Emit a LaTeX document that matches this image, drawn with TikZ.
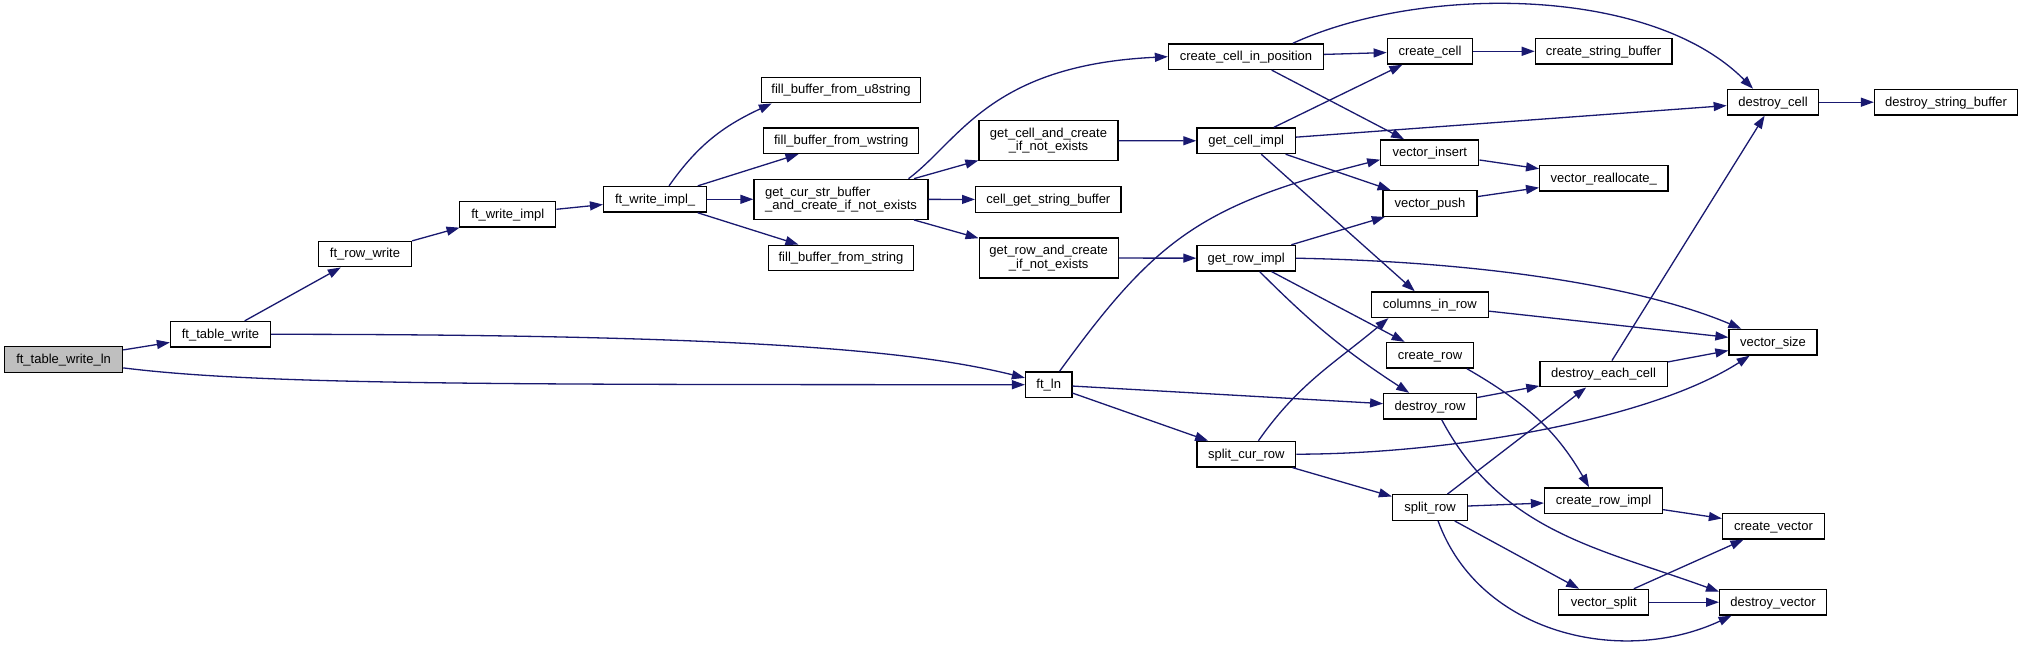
\documentclass[tikz,border=0pt]{standalone}
\usepackage{fontspec}
\setmainfont{Liberation Sans}
\usetikzlibrary{arrows.meta}
\definecolor{edgeblue}{HTML}{191970}
\definecolor{rootgray}{HTML}{BFBFBF}
\tikzset{
  fn/.style={draw, rectangle, line width=1.3pt, inner sep=0pt, minimum height=25.6pt,
    text height=9.6pt, text depth=2pt, font=\fontsize{13}{13.5}\selectfont},
  fntwo/.style={draw, rectangle, line width=1.3pt, inner sep=0pt, minimum height=40pt,
    align=center, font=\fontsize{13}{13.4}\selectfont},
  call/.style={draw=edgeblue, line width=1.3pt, -{Triangle[length=13pt, width=9pt]}}
}
\begin{document}
\begin{tikzpicture}[x=1pt, y=1pt]
\path[use as bounding box, fill=white] (0,0) rectangle (2023,-648);

\node[fn, fill=rootgray, minimum width=118pt] (twl) at (63.6,-359.5) {ft\_table\_write\_ln};
\node[fn, minimum width=100pt] (tw) at (220.5,-334.3) {ft\_table\_write};
\node[fn, minimum width=93pt] (rw) at (365,-254) {ft\_row\_write};
\node[fn, minimum width=96pt] (wi) at (507.8,-214.2) {ft\_write\_impl};
\node[fn, minimum width=103pt] (wiu) at (655.1,-199.3) {ft\_write\_impl\_};

\node[fn, minimum width=159pt] (fu8) at (841,-90) {fill\_buffer\_from\_u8string};
\node[fn, minimum width=155pt] (fw) at (841.2,-140.7) {fill\_buffer\_from\_wstring};
\node[fntwo, align=left, minimum width=174pt] (gcs) at (841,-199.3) {get\_cur\_str\_buffer\\\_and\_create\_if\_not\_exists};
\node[fn, minimum width=145.5pt] (fs) at (841,-258) {fill\_buffer\_from\_string};

\node[fntwo, minimum width=139pt] (gcc) at (1048.5,-140.7) {get\_cell\_and\_create\\\_if\_not\_exists};
\node[fn, minimum width=145.3pt] (cgs) at (1048.3,-199.5) {cell\_get\_string\_buffer};
\node[fntwo, minimum width=139pt] (grc) at (1048.7,-258) {get\_row\_and\_create\\\_if\_not\_exists};
\node[fn, minimum width=46.3pt] (ln) at (1048.7,-384.7) {ft\_ln};

\node[fn, minimum width=155pt] (ccp) at (1246,-56.7) {create\_cell\_in\_position};
\node[fn, minimum width=98.6pt] (gci) at (1246.2,-140.8) {get\_cell\_impl};
\node[fn, minimum width=98.6pt] (gri) at (1246.2,-258.2) {get\_row\_impl};
\node[fn, minimum width=98.6pt] (scr) at (1246.3,-454.2) {split\_cur\_row};

\node[fn, minimum width=85.5pt] (cc) at (1430,-51.3) {create\_cell};
\node[fn, minimum width=98pt] (vi) at (1429.8,-152.7) {vector\_insert};
\node[fn, minimum width=94pt] (vp) at (1430,-203.5) {vector\_push};
\node[fn, minimum width=116.7pt] (cir) at (1429.8,-304.7) {columns\_in\_row};
\node[fn, minimum width=87pt] (cr) at (1430,-355.3) {create\_row};
\node[fn, minimum width=92.5pt] (dr) at (1430,-406.3) {destroy\_row};
\node[fn, minimum width=75pt] (sr) at (1430,-507.5) {split\_row};

\node[fn, minimum width=136.5pt] (csb) at (1603.6,-51.3) {create\_string\_buffer};
\node[fn, minimum width=128.3pt] (vr) at (1603.8,-178.2) {vector\_reallocate\_};
\node[fn, minimum width=127.3pt] (dec) at (1603.6,-374) {destroy\_each\_cell};
\node[fn, minimum width=118pt] (cri) at (1603.5,-500.7) {create\_row\_impl};
\node[fn, minimum width=90pt] (vsp) at (1603.8,-602.2) {vector\_split};

\node[fn, minimum width=91.4pt] (dc) at (1773,-102.2) {destroy\_cell};
\node[fn, minimum width=88pt] (vs) at (1773,-342.2) {vector\_size};
\node[fn, minimum width=102pt] (cv) at (1773.5,-526.2) {create\_vector};
\node[fn, minimum width=106.7pt] (dv) at (1773,-602.2) {destroy\_vector};
\node[fn, minimum width=143pt] (dsb) at (1946,-102.2) {destroy\_string\_buffer};

\draw[call] (twl) -- (tw);
\draw[call] (twl.-8) .. controls (260,-385) and (500,-384.5) .. (ln.west);
\draw[call] (tw) -- (rw);
\draw[call] (tw.east) .. controls (760,-334.3) and (920,-352) .. (ln.164);
\draw[call] (rw) -- (wi);
\draw[call] (wi) -- (wiu);
\draw[call] (wiu.44) to[out=55, in=-155] (fu8.-169);
\draw[call] (wiu) -- (fw);
\draw[call] (wiu) -- (gcs);
\draw[call] (wiu) -- (fs);
\draw[call] (gcs.17) .. controls (960,-140) and (990,-65) .. (ccp.west);
\draw[call] (gcs) -- (gcc);
\draw[call] (gcs) -- (cgs);
\draw[call] (gcs) -- (grc);
\draw[call] (ccp) -- (cc);
\draw[call] (ccp.16) .. controls (1420,15) and (1650,15) .. (dc.146);
\draw[call] (ccp) -- (vi);
\draw[call] (cc) -- (csb);
\draw[call] (gcc) -- (gci);
\draw[call] (gci) -- (cc);
\draw[call] (gci) -- (dc);
\draw[call] (gci) -- (vp);
\draw[call] (gci) -- (cir);
\draw[call] (grc) -- (gri);
\draw[call] (gri) -- (vp);
\draw[call] (gri.east) .. controls (1500,-262) and (1650,-290) .. (vs.157);
\draw[call] (gri) -- (cr);
\draw[call] (gri) to[bend right=6] (dr);
\draw[call] (ln.51) .. controls (1155,-240) and (1200,-205) .. (vi.188);
\draw[call] (ln) -- (dr);
\draw[call] (ln) -- (scr);
\draw[call] (vi) -- (vr);
\draw[call] (vp) -- (vr);
\draw[call] (dc) -- (dsb);
\draw[call] (cir) -- (vs);
\draw[call] (cr.-20) to[out=-30, in=120] (cri.137);
\draw[call] (dr) -- (dec);
\draw[call] (dr.-49) to[out=-62, in=160] (dv.169);
\draw[call] (dec) -- (dc);
\draw[call] (dec) -- (vs);
\draw[call] (scr.48) to[out=55, in=-140] (cir.-162);
\draw[call] (scr.east) .. controls (1450,-454) and (1650,-420) .. (vs.-150);
\draw[call] (scr) -- (sr);
\draw[call] (sr) -- (dec);
\draw[call] (sr) -- (cri);
\draw[call] (sr) -- (vsp);
\draw[call] (sr.-59) to[out=-70, in=-155] (dv.-162);
\draw[call] (cri) -- (cv);
\draw[call] (vsp) -- (cv);
\draw[call] (vsp) -- (dv);
\end{tikzpicture}
\end{document}
